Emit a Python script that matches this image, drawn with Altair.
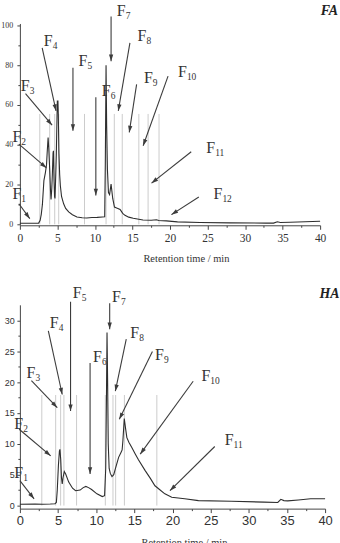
import math
import altair as alt
import pandas as pd

# ---------------- FA panel data ----------------
FA_T = [0, 1.0, 2.0, 2.5, 2.7, 2.85, 3.0, 3.2, 3.4, 3.55, 3.65, 3.76, 3.85, 3.97, 4.08, 4.15,
        4.25, 4.32, 4.42, 4.47, 4.55, 4.62, 4.68, 4.78, 4.86, 4.95, 4.99, 5.07, 5.12, 5.2, 5.3,
        5.39, 5.55, 5.83, 6.1, 6.5, 7.0, 7.6, 8.3, 8.9, 9.6, 10.3, 11.0, 11.3, 11.38, 11.48,
        11.56, 11.66, 11.8, 11.95, 12.15, 12.37, 12.6, 12.9, 13.35, 13.7, 14.0, 14.5, 15.1,
        16.4, 17.5, 18.2, 18.5, 19.5, 21, 24, 28, 32.8, 33.8, 34.3, 34.7, 36, 38, 40]
FA_V = [0.5, 0.5, 0.5, 0.6, 2, 5, 10, 22, 26, 30, 37, 43.7, 38, 27.8, 17, 12.5,
        18, 24.5, 35.8, 37, 22, 14, 13, 25, 36, 55, 62, 62, 55, 36, 25,
        19.5, 14, 10.3, 8, 6.2, 4.8, 3.7, 3.3, 3.2, 3.4, 3.5, 3.7, 3.8, 30, 80,
        50, 27.8, 16, 15, 20.2, 13, 8.7, 8.2, 7.5, 5.5, 4.5, 3.6, 3,
        2.2, 2.0, 2.3, 1.9, 1.7, 1.2, 0.9, 0.7, 0.6, 0.6, 1.3, 0.9, 1.0, 1.3, 1.5]
FA_CUTS = [2.65, 3.97, 4.64, 5.17, 8.61, 11.48, 12.58, 13.64, 15.85, 17.08, 18.54]
FA_CUT_TOP = 55.5
FA_LAB_N = ["1", "2", "3", "4", "5", "6", "7", "8", "9", "10", "11", "12"]
FA_LAB_X = [-1.0, -1.0, 0.13, 3.18, 7.81, 10.91, 12.9, 15.68, 16.52, 21.06, 24.82, 25.79]
FA_LAB_Y = [12.85, 41.2, 66.85, 89.85, 79.5, 64.3, 104.85, 92.0, 70.85, 74.2, 35.85, 12.5]
FA_ARR_X1 = [-0.13, -0.13, 0.75, 2.97, 7.07, 10.12, 12.15, 14.66, 15.55, 19.74, 22.83, 23.84]
FA_ARR_Y1 = [10.35, 40.35, 65.7, 88.7, 78.7, 63.85, 104.5, 91.2, 70.35, 74.5, 36.5, 13.7]
FA_ARR_X2 = [1.32, 3.54, 4.29, 4.82, 7.07, 10.12, 12.15, 13.11, 14.57, 16.42, 17.54, 20.19]
FA_ARR_Y2 = [2.85, 28.35, 49.85, 57.0, 47.0, 14.5, 82.0, 57.0, 46.2, 39.5, 20.7, 4.85]
FA_TAG = "FA"
FA_TAG_X, FA_TAG_Y = 40.09, 105.35

# ---------------- HA panel data ----------------
HA_T = [0, 2, 3, 4, 4.6, 4.78, 4.9, 5.05, 5.18, 5.25, 5.35, 5.45, 5.55, 5.65, 5.82, 6.0,
        6.4, 6.9, 7.3, 7.9, 8.3, 8.65, 9.0, 9.4, 10.1, 10.8, 11.1, 11.25, 11.35, 11.42, 11.5,
        11.58, 11.7, 11.85, 12.07, 12.3, 12.5, 12.94, 13.25, 13.4, 13.5, 13.68, 13.85, 14.02,
        14.3, 14.67, 15.1, 15.54, 16.4, 17.1, 17.7, 17.9, 18.3, 19.0, 19.9, 21.6, 23.4, 27.7,
        32.0, 33.8, 34.2, 34.6, 35.1, 36.5, 38.1, 40]
HA_V = [0.2, 0.25, 0.2, 0.25, 0.3, 0.5, 2.5, 6.5, 8.8, 9.1, 7.5, 4.5, 3.5, 4.5, 5.5, 5.1,
        3.8, 2.8, 2.4, 2.5, 2.9, 3.1, 2.9, 2.6, 1.9, 1.45, 1.6, 6, 18, 28, 20,
        10, 6.0, 5.2, 4.7, 5.0, 5.9, 7.8, 8.6, 9.0, 10.5, 14.1, 12.5, 11.0,
        10.2, 9.4, 8.4, 7.4, 5.7, 4.4, 3.2, 3.0, 2.6, 1.9, 1.35, 1.1, 0.8, 0.7,
        0.55, 0.5, 1.0, 0.8, 0.75, 0.9, 1.1, 1.1]
HA_CUTS = [2.87, 4.69, 5.34, 5.77, 7.43, 11.2, 12.2, 12.55, 13.7, 17.95]
HA_CUT_TOP = 17.9
HA_LAB_N = ["1", "2", "3", "4", "5", "6", "7", "8", "9", "10", "11"]
HA_LAB_X = [-0.74, -0.74, 0.86, 3.91, 6.94, 9.59, 12.07, 14.46, 17.72, 23.79, 26.84]
HA_LAB_Y = [4.41, 12.46, 20.67, 28.72, 33.55, 23.18, 32.9, 27.2, 23.6, 20.23, 9.77]
HA_ARR_X1 = [0.0, -0.09, 1.51, 3.73, 6.64, 9.2, 11.77, 13.94, 17.37, 22.71, 25.54]
HA_ARR_Y1 = [4.02, 12.35, 20.23, 28.28, 33.0, 23.08, 32.74, 26.95, 24.95, 20.12, 9.56]
HA_ARR_X2 = [1.86, 4.04, 4.9, 5.55, 6.64, 9.2, 11.77, 12.51, 13.03, 15.77, 19.67]
HA_ARR_Y2 = [1.08, 8.05, 15.84, 17.98, 15.29, 5.1, 28.56, 18.51, 13.96, 8.32, 2.41]
HA_TAG = "HA"
HA_TAG_X, HA_TAG_Y = 39.26, 33.6

X_TICKS = [0, 2.5, 5, 7.5, 10, 12.5, 15, 17.5, 20, 22.5, 25, 27.5, 30, 32.5, 35, 37.5, 40]
FA_Y_TICKS = [0, 10, 20, 30, 40, 50, 60, 70, 80, 90, 100]
HA_Y_TICKS = [0, 2.5, 5, 7.5, 10, 12.5, 15, 17.5, 20, 22.5, 25, 27.5, 30]

SERIF = "Liberation Serif"
SANS = "Liberation Sans"
INK = "#2e2e2e"
AXC = "#444444"
CUTC = "#cccccc"
HEAD = "M0,0L-0.32,1L0.32,1Z"


def panel(t, v, cuts, cut_top, lab_n, lab_x, lab_y, ax1, ay1, ax2, ay2, tag, tag_x, tag_y,
          w, h, ydom, yticks, ymajor, xfont, xsize, xpad, yfont, ysize, ypad, title_x):
    kx = w / 40.0
    ky = h / (ydom[1] - ydom[0])
    xs = alt.Scale(domain=[0, 40], nice=False, zero=False)
    ys = alt.Scale(domain=ydom, nice=False, zero=False)
    xaxis = alt.Axis(values=X_TICKS, labelExpr="datum.value % 5 === 0 ? datum.label : ''",
                     tickSize={"condition": {"test": "datum.value % 5 === 0", "value": 4}, "value": 2},
                     labelFont=xfont, labelFontSize=xsize, labelColor="#333333", labelPadding=xpad,
                     labelFlush=False, domainColor=AXC, tickColor=AXC, grid=False,
                     title="Retention time / min", titleFont=SERIF, titleFontSize=10.5,
                     titleFontWeight="normal", titleColor="#333333", titleX=title_x, titleY=36.8,
                     titleAlign="center", titleBaseline="alphabetic")
    yaxis = alt.Axis(values=yticks, labelExpr="datum.value %% %s === 0 ? datum.label : ''" % ymajor,
                     tickSize={"condition": {"test": "datum.value %% %s === 0" % ymajor, "value": 3}, "value": 2},
                     labelFont=yfont, labelFontSize=ysize, labelColor="#333333", labelPadding=ypad,
                     labelFlush=False, domainColor=AXC, tickColor=AXC, grid=False, title=None)

    def X(f):
        return alt.X(f, type="quantitative", scale=xs, axis=xaxis)

    def Y(f):
        return alt.Y(f, type="quantitative", scale=ys, axis=yaxis)

    curve = pd.DataFrame({"t": t, "v": v})
    cut_df = pd.DataFrame({"t": cuts, "y0": [0.0] * len(cuts), "y1": [cut_top] * len(cuts)})
    ang = []
    for a, b, c, d in zip(ax1, ay1, ax2, ay2):
        dx = (c - a) * kx
        dy = -(d - b) * ky
        ang.append((math.degrees(math.atan2(dx, -dy)) + 360.0) % 360.0)
    arr = pd.DataFrame({"x1": ax1, "y1": ay1, "x2": ax2, "y2": ay2, "ang": ang})
    labs = pd.DataFrame({"x": lab_x, "y": lab_y, "n": lab_n})
    tagdf = pd.DataFrame({"x": [tag_x], "y": [tag_y], "s": [tag]})

    cut_layer = alt.Chart(cut_df).mark_rule(color=CUTC, strokeWidth=1).encode(
        x=X("t"), y=Y("y0"), y2="y1")
    line_layer = alt.Chart(curve).mark_line(color=INK, strokeWidth=1.1).encode(
        x=X("t"), y=Y("v"))
    arrow_layer = alt.Chart(arr).mark_rule(color="#3c3c3c", strokeWidth=1.1).encode(
        x=X("x1"), y=Y("y1"), x2="x2", y2="y2")
    head_layer = alt.Chart(arr).mark_point(shape=HEAD, filled=True, size=180, color="#3c3c3c",
                                           opacity=1, strokeWidth=0).encode(
        x=X("x2"), y=Y("y2"), angle=alt.Angle("ang:Q", scale=None))
    f_layer = alt.Chart(labs).mark_text(text="F", font=SERIF, fontSize=16, align="left",
                                        baseline="alphabetic", color="#333333").encode(
        x=X("x"), y=Y("y"))
    sub_layer = alt.Chart(labs).mark_text(font=SERIF, fontSize=9.5, align="left", dx=9, dy=3,
                                          baseline="alphabetic", color="#333333").encode(
        x=X("x"), y=Y("y"), text="n:N")
    tag_layer = alt.Chart(tagdf).mark_text(font=SERIF, fontSize=14, fontStyle="italic",
                                           fontWeight="bold", align="left",
                                           baseline="alphabetic", color="#222222").encode(
        x=X("x"), y=Y("y"), text="s:N")
    return alt.layer(cut_layer, line_layer, arrow_layer, head_layer, f_layer, sub_layer,
                     tag_layer).properties(width=w, height=h)


p1 = panel(FA_T, FA_V, FA_CUTS, FA_CUT_TOP, FA_LAB_N, FA_LAB_X, FA_LAB_Y,
           FA_ARR_X1, FA_ARR_Y1, FA_ARR_X2, FA_ARR_Y2, FA_TAG, FA_TAG_X, FA_TAG_Y,
           302, 203, [-0.5, 101], FA_Y_TICKS, 20, SERIF, 11.5, 3, SERIF, 8, 4.3, 167)
p2 = panel(HA_T, HA_V, HA_CUTS, HA_CUT_TOP, HA_LAB_N, HA_LAB_X, HA_LAB_Y,
           HA_ARR_X1, HA_ARR_Y1, HA_ARR_X2, HA_ARR_Y2, HA_TAG, HA_TAG_X, HA_TAG_Y,
           307, 205, [-0.5, 32.5], HA_Y_TICKS, 5, SANS, 13, 2, SANS, 9, 2.7, 165)

chart = alt.vconcat(p1, p2, spacing=80, bounds="flush").properties(
    padding={"left": 0, "top": 1, "right": 0, "bottom": 0}
).configure_view(stroke=None)

chart.save("out.html", embed_options={"renderer": "svg", "actions": False})
